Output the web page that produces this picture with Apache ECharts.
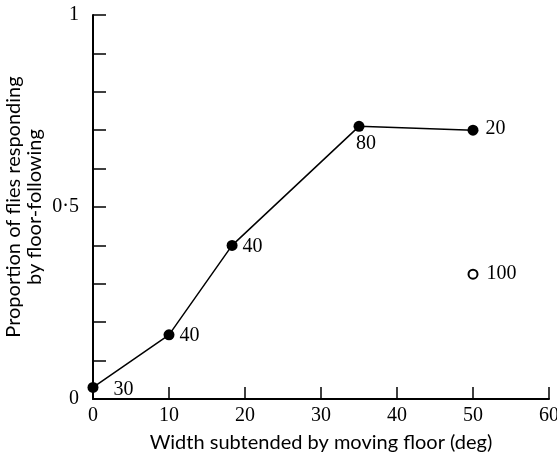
<!DOCTYPE html>
<html>
<head>
<meta charset="utf-8">
<script src="https://cdn.jsdelivr.net/npm/echarts@6/dist/echarts.min.js"></script>
<style>
  html, body { margin: 0; padding: 0; background: #fff; }
  #chart { width: 557px; height: 459px; }
</style>
</head>
<body>
<div id="chart"></div>
<script>
// floor width (deg), proportion responding, number of flies tested
var widths = [0, 10, 18.3, 35, 50];
var proportions = [0.03, 0.167, 0.40, 0.71, 0.70];
var counts = [30, 40, 40, 80, 20];

// open circle (separate condition)
var openWidths = [50];
var openProportions = [0.325];
var openCounts = [100];

var xTicks = [0, 10, 20, 30, 40, 50, 60];
var yLabelled = { '0': '0', '0.5': '0·5', '1': '1' };

var serif = 'Liberation Serif';
var sans = 'Lato';

// where each sample-size label sits relative to its point
var labelPlace = [
  { position: 'right', offset: [10, 2] },
  { position: 'right', offset: [0, 1] },
  { position: 'right', offset: [0, 1] },
  { position: 'bottom', offset: [7, -3] },
  { position: 'right', offset: [2, -1] }
];

var lineData = widths.map(function (w, i) {
  return {
    value: [w, proportions[i], counts[i]],
    label: labelPlace[i]
  };
});
var openData = openWidths.map(function (w, i) {
  return [w, openProportions[i], openCounts[i]];
});

var chart = echarts.init(document.getElementById('chart'));
chart.setOption({
  animation: false,
  backgroundColor: '#fff',
  grid: { left: 93, right: 8, top: 15, bottom: 60, outerBoundsMode: 'none', containLabel: false },
  xAxis: {
    type: 'value',
    min: xTicks[0],
    max: xTicks[xTicks.length - 1],
    interval: 10,
    name: 'Width subtended by moving floor (deg)',
    nameLocation: 'middle',
    nameGap: 34,
    nameMoveOverlap: false,
    nameTextStyle: { color: '#000', fontFamily: sans, fontSize: 20 },
    axisLine: { lineStyle: { color: '#000', width: 2 } },
    axisTick: { inside: true, length: 12, lineStyle: { color: '#000', width: 1.5 } },
    axisLabel: { color: '#000', fontFamily: serif, fontSize: 20, margin: 7, showMaxLabel: true },
    splitLine: { show: false }
  },
  yAxis: {
    type: 'value',
    min: 0,
    max: 1,
    interval: 0.1,
    name: 'Proportion of flies responding\nby floor-following',
    nameLocation: 'middle',
    nameGap: 48,
    nameMoveOverlap: false,
    nameTextStyle: { color: '#000', fontFamily: sans, fontSize: 20, lineHeight: 21 },
    axisLine: { lineStyle: { color: '#000', width: 2 } },
    axisTick: { inside: true, length: 13, lineStyle: { color: '#000', width: 1.5 } },
    axisLabel: {
      color: '#000', fontFamily: serif, fontSize: 20, margin: 14,
      formatter: function (v) {
        var k = String(Math.round(v * 10) / 10);
        return yLabelled[k] || '';
      }
    },
    splitLine: { show: false }
  },
  series: [
    {
      type: 'line',
      data: lineData,
      symbol: 'circle',
      symbolSize: 11,
      itemStyle: { color: '#000' },
      lineStyle: { color: '#000', width: 1.5 },
      label: {
        show: true,
        color: '#000',
        fontFamily: serif,
        fontSize: 20,
        formatter: function (p) { return p.value[2]; }
      }
    },
    {
      type: 'scatter',
      data: openData,
      symbol: 'emptyCircle',
      symbolSize: 9,
      itemStyle: { color: '#000', borderColor: '#000', borderWidth: 1.2, opacity: 1 },
      label: {
        show: true,
        position: 'right',
        offset: [3, 0],
        color: '#000',
        fontFamily: serif,
        fontSize: 20,
        formatter: function (p) { return p.value[2]; }
      }
    }
  ]
});
</script>
</body>
</html>
